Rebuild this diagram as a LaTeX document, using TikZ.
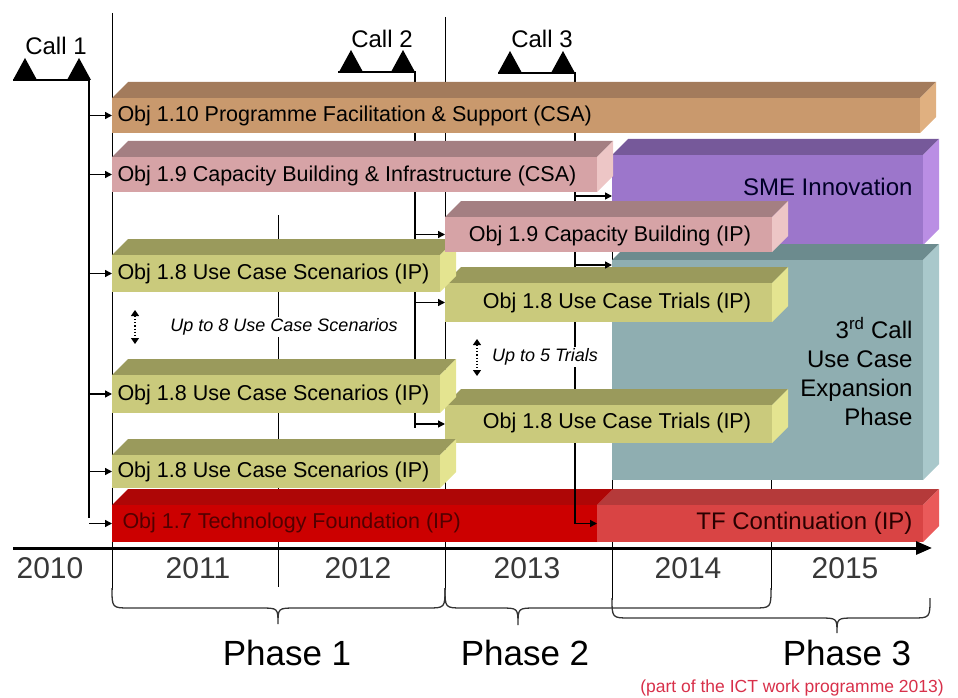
\documentclass[tikz,border=0pt]{standalone}
\usepackage{fontspec}
\setmainfont{Liberation Sans}
\usetikzlibrary{arrows.meta}
\definecolor{facfront}{HTML}{C9996D}
\definecolor{factop}{HTML}{A37B5C}
\definecolor{facside}{HTML}{E0B080}
\definecolor{capfront}{HTML}{D6A3A6}
\definecolor{captop}{HTML}{A47F82}
\definecolor{capside}{HTML}{EDC6C6}
\definecolor{smefront}{HTML}{9C76CB}
\definecolor{smetop}{HTML}{76599A}
\definecolor{smeside}{HTML}{BA8EE4}
\definecolor{ucefront}{HTML}{8FAEB1}
\definecolor{ucetop}{HTML}{6C8B8E}
\definecolor{uceside}{HTML}{A9C8CB}
\definecolor{usefront}{HTML}{CACA7C}
\definecolor{usetop}{HTML}{9A9A5C}
\definecolor{useside}{HTML}{E4E490}
\definecolor{tfdfront}{HTML}{CC0000}
\definecolor{tfdtop}{HTML}{AE0606}
\definecolor{tfdside}{HTML}{CC0000}
\definecolor{tfcfront}{HTML}{D94444}
\definecolor{tfctop}{HTML}{B53A3A}
\definecolor{tfcside}{HTML}{EA5A5A}
\definecolor{notered}{HTML}{D8304A}
\definecolor{yeargray}{HTML}{383838}
\newcommand{\slab}[6]{%
	\fill[#6top] (#2,#4) -- (#2+16,#4-16) -- (#3+16,#4-16) -- (#3,#4) -- cycle;
	\fill[#6side] (#3,#4) -- (#3+16,#4-16) -- (#3+16,#5-16) -- (#3,#5) -- cycle;
	\fill[#6front] (#2,#4) rectangle (#3,#5);
	\coordinate (#1) at (#2,{(#4+#5)/2});
}

\begin{document}
\begin{tikzpicture}[x=1pt,y=-1pt,line width=1pt,
	call/.style={line width=1.4pt},
	feed/.style={line width=1.4pt,-{Triangle[length=7pt,width=7pt]}},
	span/.style={line width=1.3pt,black!80},
	updown/.style={dotted,line width=1.2pt,{Triangle[length=6pt,width=8pt]}-{Triangle[length=6pt,width=8pt]}},
	lbl/.style={inner sep=0pt,font=\fontsize{21.5}{24}\selectfont},
	big/.style={inner sep=0pt,font=\fontsize{24}{29}\selectfont},
	note/.style={fill=white,inner sep=2pt,font=\fontsize{18}{20}\selectfont\itshape},
	year/.style={inner sep=0pt,text=yeargray,font=\fontsize{30}{32}\selectfont},
	phase/.style={inner sep=0pt,font=\fontsize{35}{38}\selectfont}]
	\useasboundingbox (0,0) rectangle (958,698);
	\foreach \gx/\ga/\gb in {112/13/590,278/215/587,445/17/590,612/145/600,771/145/590}
		\draw (\gx,\ga) -- (\gx,\gb);
	\coordinate (c1) at (89,80);
	\coordinate (c2) at (415,72);
	\coordinate (c3) at (575,73);
	\draw[call] (13,80) -- (c1) -- (89,518);
	\draw[call] (338,72) -- (c2) -- (415,428);
	\draw[call] (498,73) -- (c3) -- (575,522);
	\foreach \x/\y in {25/80,79/80,351/72,403/72,510/73,563/73}
		\fill (\x-12,\y) -- (\x,\y-22) -- (\x+12,\y) -- cycle;
	\node[big] (call1) at (56,46) {Call 1};
	\node[big] (call2) at (382,39) {Call 2};
	\node[big] (call3) at (542,39) {Call 3};
	\slab{o110}{112}{920}{98}{133}{fac}
	\slab{sme}{612}{923}{155}{245}{sme}
	\slab{o19a}{112}{597}{157}{192}{cap}
	\slab{uce}{612}{923}{260}{480}{uce}
	\slab{tr1}{445}{772}{283}{322}{use}
	\slab{tr2}{445}{772}{405}{443}{use}
	\slab{sc1}{112}{440}{255}{292}{use}
	\slab{sc2}{112}{440}{375}{413}{use}
	\slab{sc3}{112}{440}{455}{488}{use}
	\slab{o19b}{445}{772}{217}{252}{cap}
	\slab{o17}{112}{597}{505}{542}{tfd}
	\slab{tf}{597}{923}{505}{542}{tfc}
	\coordinate (smein) at (612,196);
	\coordinate (ucein) at (612,265);
	\draw[feed] (c1 |- o110) -- (o110);
	\draw[feed] (c1 |- o19a) -- (o19a);
	\draw[feed] (c1 |- sc1) -- (sc1);
	\draw[feed] (c1 |- sc2) -- (sc2);
	\draw[feed] (c1 |- sc3) -- (sc3);
	\draw[feed] (c1 |- o17) -- (o17);
	\draw[feed] (c2 |- o19b) -- (o19b);
	\draw[feed] (c2 |- tr1) -- (tr1);
	\draw[feed] (c2 |- tr2) -- (tr2);
	\draw[feed] (c3 |- smein) -- (smein);
	\draw[feed] (c3 |- ucein) -- (ucein);
	\draw[feed] (575,488) |- (tf);
	\node[lbl,anchor=west] (t110) at (117,116) {Obj 1.10 Programme Facilitation \& Support (CSA)};
	\node[lbl,anchor=west] (t19a) at (117,176) {Obj 1.9 Capacity Building \& Infrastructure (CSA)};
	\node[lbl] (t19b) at (610,236) {Obj 1.9 Capacity Building (IP)};
	\node[lbl,anchor=west] (tsc1) at (117,274) {Obj 1.8 Use Case Scenarios (IP)};
	\node[lbl,anchor=west] (tsc2) at (117,395) {Obj 1.8 Use Case Scenarios (IP)};
	\node[lbl,anchor=west] (tsc3) at (117,472) {Obj 1.8 Use Case Scenarios (IP)};
	\node[lbl] (ttr1) at (617,303) {Obj 1.8 Use Case Trials (IP)};
	\node[lbl] (ttr2) at (617,423) {Obj 1.8 Use Case Trials (IP)};
	\node[lbl,anchor=west,text=black!60!tfdfront] (t17) at (122,523) {Obj 1.7 Technology Foundation (IP)};
	\node[big,anchor=east,text=black!85!blue] (tsme) at (913,187) {SME Innovation};
	\node[big,anchor=east,align=right] (tuce) at (913,372) {3\textsuperscript{rd} Call\\Use Case\\Expansion\\Phase};
	\node[big,anchor=east,text=black!80!tfdfront] (ttf) at (913,523) {TF Continuation (IP)};
	\node[note] (up8) at (284,327) {Up to 8 Use Case Scenarios};
	\node[note] (up5) at (545,357) {Up to 5 Trials};
	\draw[updown] (135,310) -- (135,344);
	\draw[updown] (477,339) -- (477,376);
	\draw[line width=3pt,-{Triangle[length=16pt,width=13pt]}] (13,548) -- (932,548);
	\node[year] (y10) at (50,568) {2010};
	\node[year] (y11) at (198,568) {2011};
	\node[year] (y12) at (358,568) {2012};
	\node[year] (y13) at (527,568) {2013};
	\node[year] (y14) at (688,568) {2014};
	\node[year] (y15) at (845,568) {2015};
	\draw[span] (112,588) .. controls (112,608) .. (130,608) -- (260,608) .. controls (278,608) .. (278,624) .. controls (278,608) .. (296,608) -- (427,608) .. controls (445,608) .. (445,588);
	\draw[span] (445,588) .. controls (445,608) .. (463,608) -- (500,608) .. controls (518,608) .. (518,625) .. controls (518,608) .. (536,608) -- (753,608) .. controls (771,608) .. (771,588);
	\draw[span] (612,598) .. controls (612,618) .. (630,618) -- (819,618) .. controls (837,618) .. (837,633) .. controls (837,618) .. (855,618) -- (912,618) .. controls (930,618) .. (930,598);
	\node[phase] (p1) at (287,653) {Phase 1};
	\node[phase] (p2) at (525,653) {Phase 2};
	\node[phase] (p3) at (847,653) {Phase 3};
	\node[inner sep=0pt,text=notered,font=\fontsize{17.5}{20}\selectfont] (wp) at (792,688) {(part of the ICT work programme 2013)};
\end{tikzpicture}
\end{document}
